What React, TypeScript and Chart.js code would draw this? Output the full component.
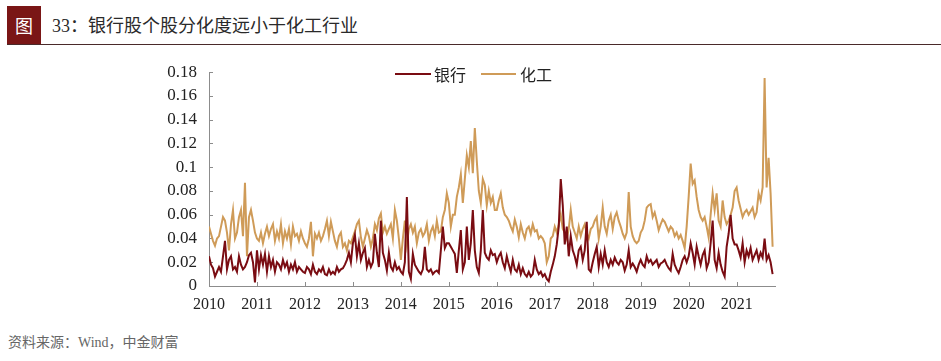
import React, { useEffect, useRef } from "react";
import { Chart, registerables } from "chart.js";

Chart.register(...registerables);

// ---- axis / category definitions ----
const startYear = 2010;
const periodsPerYear = 24; // semi-monthly observations
const xMin = 2010;
const xMax = 2021.8;
const yearTicks = [2010, 2011, 2012, 2013, 2014, 2015, 2016, 2017, 2018, 2019, 2020, 2021];
const yTickValues = [0, 0.02, 0.04, 0.06, 0.08, 0.1, 0.12, 0.14, 0.16, 0.18];
const yTickLabels = ["0", "0.02", "0.04", "0.06", "0.08", "0.1", "0.12", "0.14", "0.16", "0.18"];

// ---- 银行 (bank) dispersion, semi-monthly ----
const bank2010 = [0.025, 0.018, 0.015, 0.008, 0.012, 0.016, 0.012, 0.025, 0.038, 0.014, 0.022, 0.025, 0.014, 0.016, 0.012, 0.025, 0.018, 0.014, 0.016, 0.020, 0.026, 0.028, 0.020, 0.003];
const bank2011 = [0.030, 0.014, 0.026, 0.018, 0.027, 0.012, 0.025, 0.016, 0.022, 0.012, 0.020, 0.018, 0.014, 0.022, 0.016, 0.020, 0.012, 0.018, 0.014, 0.020, 0.012, 0.016, 0.014, 0.012];
const bank2012 = [0.011, 0.016, 0.014, 0.010, 0.018, 0.012, 0.010, 0.014, 0.012, 0.016, 0.010, 0.009, 0.014, 0.010, 0.012, 0.010, 0.016, 0.012, 0.014, 0.015, 0.018, 0.022, 0.028, 0.020];
const bank2013 = [0.036, 0.043, 0.025, 0.036, 0.022, 0.028, 0.032, 0.016, 0.022, 0.016, 0.020, 0.044, 0.028, 0.016, 0.055, 0.028, 0.022, 0.013, 0.028, 0.016, 0.013, 0.020, 0.014, 0.016];
const bank2014 = [0.012, 0.010, 0.020, 0.075, 0.012, 0.006, 0.027, 0.018, 0.015, 0.012, 0.010, 0.014, 0.033, 0.014, 0.012, 0.014, 0.010, 0.012, 0.013, 0.011, 0.030, 0.050, 0.032, 0.036];
const bank2015 = [0.036, 0.033, 0.030, 0.027, 0.011, 0.030, 0.047, 0.014, 0.020, 0.050, 0.022, 0.036, 0.064, 0.030, 0.016, 0.011, 0.030, 0.064, 0.028, 0.024, 0.022, 0.030, 0.026, 0.027];
const bank2016 = [0.020, 0.025, 0.028, 0.020, 0.015, 0.025, 0.018, 0.012, 0.022, 0.014, 0.012, 0.018, 0.010, 0.015, 0.010, 0.008, 0.012, 0.008, 0.010, 0.022, 0.014, 0.010, 0.012, 0.008];
const bank2017 = [0.010, 0.006, 0.004, 0.012, 0.018, 0.025, 0.035, 0.050, 0.090, 0.068, 0.035, 0.050, 0.025, 0.042, 0.030, 0.025, 0.018, 0.030, 0.033, 0.022, 0.030, 0.054, 0.014, 0.012];
const bank2018 = [0.020, 0.027, 0.033, 0.016, 0.027, 0.018, 0.030, 0.020, 0.016, 0.022, 0.018, 0.024, 0.020, 0.018, 0.022, 0.020, 0.013, 0.018, 0.030, 0.016, 0.019, 0.016, 0.012, 0.018];
const bank2019 = [0.022, 0.018, 0.016, 0.025, 0.020, 0.022, 0.018, 0.020, 0.022, 0.016, 0.019, 0.020, 0.022, 0.018, 0.015, 0.013, 0.027, 0.018, 0.014, 0.011, 0.016, 0.022, 0.025, 0.020];
const bank2020 = [0.025, 0.036, 0.028, 0.018, 0.033, 0.025, 0.018, 0.026, 0.030, 0.015, 0.020, 0.036, 0.055, 0.022, 0.015, 0.028, 0.018, 0.012, 0.008, 0.033, 0.044, 0.060, 0.040, 0.035];
const bank2021 = [0.035, 0.030, 0.024, 0.036, 0.020, 0.030, 0.025, 0.032, 0.022, 0.026, 0.030, 0.022, 0.028, 0.024, 0.040, 0.022, 0.026, 0.020, 0.010];

// ---- 化工 (chemical) dispersion, semi-monthly ----
const chem2010 = [0.050, 0.044, 0.038, 0.034, 0.040, 0.042, 0.050, 0.058, 0.055, 0.045, 0.030, 0.052, 0.064, 0.040, 0.045, 0.058, 0.064, 0.042, 0.087, 0.025, 0.058, 0.064, 0.055, 0.045];
const chem2011 = [0.040, 0.038, 0.045, 0.036, 0.044, 0.050, 0.042, 0.048, 0.052, 0.038, 0.046, 0.040, 0.052, 0.036, 0.046, 0.040, 0.048, 0.035, 0.050, 0.042, 0.044, 0.038, 0.046, 0.040];
const chem2012 = [0.036, 0.033, 0.040, 0.054, 0.025, 0.044, 0.040, 0.045, 0.038, 0.042, 0.048, 0.055, 0.042, 0.054, 0.046, 0.038, 0.033, 0.042, 0.045, 0.033, 0.036, 0.030, 0.038, 0.036];
const chem2013 = [0.041, 0.046, 0.052, 0.055, 0.041, 0.033, 0.040, 0.047, 0.042, 0.033, 0.040, 0.052, 0.047, 0.057, 0.061, 0.045, 0.050, 0.044, 0.048, 0.052, 0.040, 0.064, 0.055, 0.040];
const chem2014 = [0.022, 0.040, 0.055, 0.035, 0.048, 0.052, 0.045, 0.050, 0.036, 0.045, 0.048, 0.042, 0.045, 0.052, 0.038, 0.046, 0.050, 0.042, 0.055, 0.045, 0.046, 0.058, 0.064, 0.078];
const chem2015 = [0.070, 0.050, 0.060, 0.060, 0.075, 0.083, 0.094, 0.070, 0.090, 0.110, 0.100, 0.122, 0.095, 0.133, 0.105, 0.080, 0.070, 0.090, 0.085, 0.068, 0.080, 0.070, 0.075, 0.064];
const chem2016 = [0.064, 0.072, 0.078, 0.066, 0.060, 0.058, 0.055, 0.050, 0.046, 0.056, 0.050, 0.041, 0.052, 0.045, 0.040, 0.048, 0.050, 0.044, 0.052, 0.046, 0.047, 0.040, 0.042, 0.040];
const chem2017 = [0.036, 0.020, 0.025, 0.040, 0.042, 0.050, 0.045, 0.052, 0.060, 0.048, 0.045, 0.040, 0.048, 0.064, 0.050, 0.045, 0.040, 0.050, 0.042, 0.048, 0.052, 0.044, 0.040, 0.048];
const chem2018 = [0.050, 0.055, 0.058, 0.040, 0.050, 0.066, 0.050, 0.044, 0.055, 0.060, 0.048, 0.058, 0.062, 0.055, 0.050, 0.044, 0.040, 0.045, 0.079, 0.050, 0.042, 0.038, 0.036, 0.038];
const chem2019 = [0.045, 0.048, 0.055, 0.066, 0.068, 0.069, 0.058, 0.062, 0.055, 0.047, 0.052, 0.056, 0.054, 0.050, 0.046, 0.050, 0.048, 0.042, 0.045, 0.040, 0.043, 0.038, 0.032, 0.050];
const chem2020 = [0.075, 0.103, 0.086, 0.089, 0.075, 0.064, 0.058, 0.055, 0.058, 0.050, 0.041, 0.060, 0.078, 0.064, 0.078, 0.055, 0.050, 0.072, 0.058, 0.052, 0.055, 0.060, 0.066, 0.080];
const chem2021 = [0.083, 0.072, 0.065, 0.058, 0.062, 0.064, 0.060, 0.063, 0.066, 0.058, 0.062, 0.078, 0.072, 0.083, 0.175, 0.083, 0.108, 0.078, 0.033];

const bankSeries = [
  ...bank2010, ...bank2011, ...bank2012, ...bank2013, ...bank2014, ...bank2015,
  ...bank2016, ...bank2017, ...bank2018, ...bank2019, ...bank2020, ...bank2021,
];
const chemSeries = [
  ...chem2010, ...chem2011, ...chem2012, ...chem2013, ...chem2014, ...chem2015,
  ...chem2016, ...chem2017, ...chem2018, ...chem2019, ...chem2020, ...chem2021,
];

const BANK_COLOR = "#7a0c12";
const CHEM_COLOR = "#cf9b58";
const AXIS_COLOR = "#8c8c8c";
const SERIF = '"Liberation Serif", "Times New Roman", serif';
const CJK = '"Liberation Serif", "Noto Sans CJK SC", serif';

const toPoints = (vals: number[]) =>
  vals.map((v, i) => ({ x: startYear + i / periodsPerYear, y: v }));

const inwardTicks = {
  id: "inwardTicks",
  beforeDatasetsDraw(chart: any) {
    const { ctx, chartArea } = chart;
    const xs = chart.scales.x;
    const ys = chart.scales.y;
    ctx.save();
    ctx.strokeStyle = AXIS_COLOR;
    ctx.lineWidth = 1;
    ctx.beginPath();
    xs.ticks.forEach((t: any) => {
      const px = Math.round(xs.getPixelForValue(t.value)) + 0.5;
      ctx.moveTo(px, chartArea.bottom);
      ctx.lineTo(px, chartArea.bottom - 4);
    });
    ys.ticks.forEach((t: any) => {
      const py = Math.round(ys.getPixelForValue(t.value)) + 0.5;
      ctx.moveTo(chartArea.left, py);
      ctx.lineTo(chartArea.left + 4, py);
    });
    ctx.stroke();
    ctx.restore();
  },
};

function ChartCanvas() {
  const ref = useRef<HTMLCanvasElement | null>(null);
  useEffect(() => {
    if (!ref.current) return;
    const chart = new Chart(ref.current, {
      type: "line",
      data: {
        datasets: [
          {
            label: "银行",
            data: toPoints(bankSeries),
            borderColor: BANK_COLOR,
            backgroundColor: BANK_COLOR,
            borderWidth: 2,
            pointRadius: 0,
            tension: 0,
          },
          {
            label: "化工",
            data: toPoints(chemSeries),
            borderColor: CHEM_COLOR,
            backgroundColor: CHEM_COLOR,
            borderWidth: 2,
            pointRadius: 0,
            tension: 0,
          },
        ],
      },
      options: {
        animation: false,
        responsive: false,
        maintainAspectRatio: false,
        layout: { padding: { top: 22, right: 166, left: 0, bottom: 0 } },
        plugins: {
          legend: { display: false },
          tooltip: { enabled: false },
        },
        scales: {
          x: {
            type: "linear",
            min: xMin,
            max: xMax,
            grid: { display: false, drawTicks: false },
            border: { display: true, color: AXIS_COLOR, width: 1 },
            afterBuildTicks: (axis: any) => {
              axis.ticks = yearTicks.map((v) => ({ value: v }));
            },
            afterFit: (axis: any) => {
              axis.height = 44;
            },
            ticks: {
              autoSkip: false,
              maxRotation: 0,
              padding: 9,
              color: "#222",
              font: { family: SERIF, size: 16 },
              callback: (v: any) => String(v),
            },
          },
          y: {
            type: "linear",
            min: 0,
            max: 0.18,
            grid: { display: false, drawTicks: false },
            border: { display: true, color: AXIS_COLOR, width: 1 },
            afterBuildTicks: (axis: any) => {
              axis.ticks = yTickValues.map((v) => ({ value: v }));
            },
            afterFit: (axis: any) => {
              axis.width = 209;
            },
            ticks: {
              autoSkip: false,
              padding: 12,
              color: "#222",
              font: { family: SERIF, size: 17 },
              callback: (_v: any, i: number) => yTickLabels[i],
            },
          },
        },
      },
      plugins: [inwardTicks],
    });
    return () => chart.destroy();
  }, []);
  return (
    <canvas
      ref={ref}
      width={941}
      height={280}
      style={{ position: "absolute", left: 0, top: 50, width: 941, height: 280 }}
    />
  );
}

export default function App() {
  return (
    <div
      style={{
        position: "absolute",
        left: 0,
        top: 0,
        width: 941,
        height: 361,
        background: "#fff",
        overflow: "hidden",
      }}
    >
      {/* title bar */}
      <div
        style={{
          position: "absolute",
          left: 7,
          top: 6,
          width: 34,
          height: 39,
          background: "#7a1616",
          color: "#fff",
          fontFamily: '"Noto Sans CJK SC", sans-serif',
          fontSize: 18,
          lineHeight: "39px",
          textAlign: "center",
        }}
      >
        图
      </div>
      <div
        style={{
          position: "absolute",
          left: 52,
          top: 12,
          height: 28,
          lineHeight: "28px",
          fontFamily: CJK,
          fontSize: 18,
          color: "#2a2a2a",
          whiteSpace: "nowrap",
        }}
      >
        33：银行股个股分化度远小于化工行业
      </div>
      <div
        style={{
          position: "absolute",
          left: 7,
          top: 44,
          width: 934,
          height: 1,
          background: "#4a2a2a",
        }}
      />

      <ChartCanvas />

      {/* legend */}
      <div style={{ position: "absolute", left: 395, top: 73, width: 36, height: 2, background: BANK_COLOR }} />
      <div
        style={{
          position: "absolute",
          left: 434,
          top: 63,
          lineHeight: "22px",
          fontFamily: '"Noto Sans CJK SC", sans-serif',
          fontSize: 16,
          color: "#222",
          whiteSpace: "nowrap",
        }}
      >
        银行
      </div>
      <div style={{ position: "absolute", left: 481, top: 73, width: 35, height: 2, background: CHEM_COLOR }} />
      <div
        style={{
          position: "absolute",
          left: 520,
          top: 63,
          lineHeight: "22px",
          fontFamily: '"Noto Sans CJK SC", sans-serif',
          fontSize: 16,
          color: "#222",
          whiteSpace: "nowrap",
        }}
      >
        化工
      </div>

      {/* source */}
      <div
        style={{
          position: "absolute",
          left: 8,
          top: 334,
          lineHeight: "18px",
          fontFamily: CJK,
          fontSize: 14,
          color: "#666",
          whiteSpace: "nowrap",
        }}
      >
        资料来源：Wind，中金财富
      </div>
    </div>
  );
}
